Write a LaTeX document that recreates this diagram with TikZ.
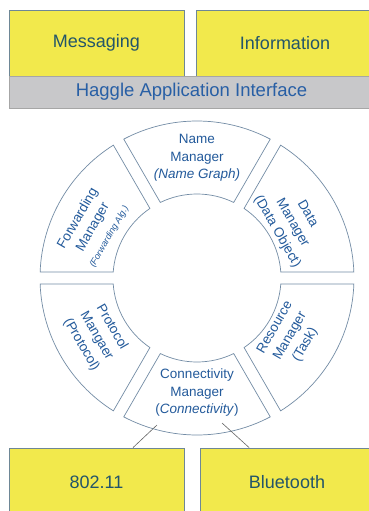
\documentclass[tikz,border=0pt]{standalone}
\usepackage{fontspec}
\setmainfont{Liberation Sans}
\definecolor{boxyellow}{RGB}{242,233,76}
\definecolor{boxedge}{RGB}{110,135,150}
\definecolor{boxtext}{RGB}{35,85,105}
\definecolor{bargray}{RGB}{200,200,202}
\definecolor{bartext}{RGB}{40,95,165}
\definecolor{ringedge}{RGB}{115,140,165}
\definecolor{ringtext}{RGB}{35,90,155}

\begin{document}
\begin{tikzpicture}[x=1pt,y=1pt,
  layerbox/.style={draw=boxedge, fill=boxyellow, line width=0.8pt, text=boxtext, font=\fontsize{18}{20}\selectfont},
  apibar/.style={draw=gray!70, fill=bargray, line width=0.8pt, text=bartext, font=\fontsize{18.5}{20}\selectfont},
  ringpart/.style={draw=ringedge, line width=0.7pt, fill=white},
  ringlabel/.style={text=ringtext, align=center, font=\fontsize{13.5}{17.5}\selectfont},
  link/.style={draw=black!60, line width=0.6pt}]
\useasboundingbox (0,0) rectangle (369,-511);
\fill[white] (0,0) rectangle (369,-511);
% Top layer
\node[layerbox, minimum width=175pt, minimum height=66pt] (msg) at (96.5,-43) {Messaging};
\node[layerbox, minimum width=178pt, minimum height=66pt] (info) at (285,-43) {Information};
\node[apibar, minimum width=365pt, minimum height=32pt] (api) at (191.5,-92) {Haggle Application Interface};
% Bottom layer
\node[layerbox, minimum width=175pt, minimum height=68pt] (wlan) at (96.5,-482) {802.11};
\node[layerbox, minimum width=174pt, minimum height=68pt] (bt) at (287,-482) {Bluetooth};
% The ring of managers
\coordinate (ctr) at (197,-278);
\pgfmathsetmacro\dout{asin(6/157)}
\pgfmathsetmacro\dinn{asin(6/84)}
\foreach \ang in {90,30,-30,-90,-150,150}{
  \draw[ringpart] ([shift={(\ang+30-\dout:157)}]ctr) arc[start angle=\ang+30-\dout, end angle=\ang-30+\dout, radius=157]
    -- ([shift={(\ang-30+\dinn:84)}]ctr) arc[start angle=\ang-30+\dinn, end angle=\ang+30-\dinn, radius=84] -- cycle;
}
% Manager labels
\node[ringlabel] (name) at ([shift={(90:120)}]ctr) {Name\\Manager\\\textit{(Name Graph)}};
\node[ringlabel, rotate=-60] (data) at ([shift={(30:110)}]ctr) {Data\\Manager\\(Data Object)};
\node[ringlabel, rotate=60] (res) at ([shift={(-32:110)}]ctr) {Resource\\Manager\\(Task)};
\node[ringlabel] (conn) at ([shift={(-90:115)}]ctr) {Connectivity\\Manager\\(\textit{Connectivity})};
\node[ringlabel, rotate=-60] (prot) at ([shift={(-150:116)}]ctr) {Protocol\\Mangaer\\(Protocol)};
\node[ringlabel, rotate=60] (fwd) at ([shift={(154:116)}]ctr) {Forwarding\\Manager\\{\fontsize{9}{11}\selectfont\textit{(Forwarding Alg.)}}};
% Links down to the interfaces
\coordinate (connleft) at (157,-425);
\coordinate (connright) at (222,-423);
\draw[link] (connleft) -- (wlan);
\draw[link] (connright) -- (bt);
\end{tikzpicture}
\end{document}
